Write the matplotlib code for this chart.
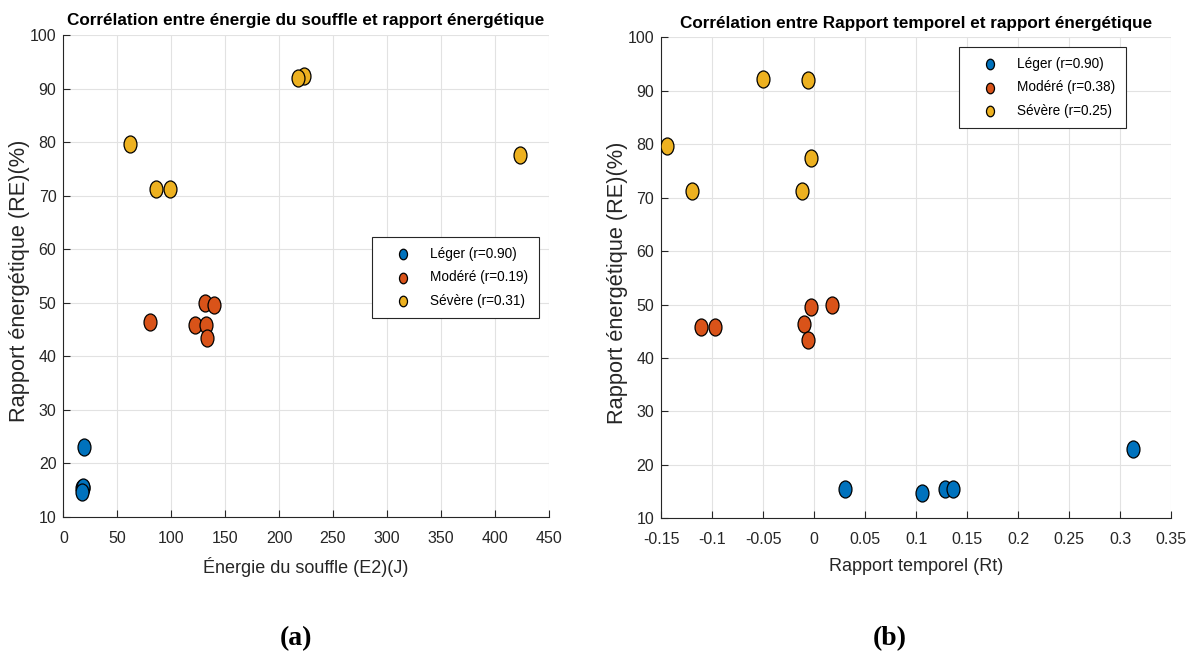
import matplotlib
matplotlib.use("Agg")
import matplotlib.pyplot as plt
from matplotlib import font_manager
from matplotlib.path import Path

# values
legerE2 = [19.2, 17.8, 17.5, 18.0, 17.2]
legerRE = [23.0, 15.5, 15.5, 15.6, 14.7]
modereE2 = [131.7, 139.5, 80.4, 122.2, 132.1, 133.0]
modereRE = [49.9, 49.6, 46.4, 45.9, 45.9, 43.4]
severeE2 = [223.6, 218.0, 62.2, 85.7, 99.3, 423.0]
severeRE = [92.35, 91.9, 79.7, 71.3, 71.3, 77.6]

legerRt = [0.3119, 0.0305, 0.1053, 0.1285, 0.1359]
legerRE2 = [23.0, 15.5, 14.7, 15.5, 15.5]
modereRt = [0.0177, -0.0033, -0.1108, -0.097, -0.0104, -0.0058]
modereRE2 = [49.85, 49.6, 45.85, 45.85, 46.35, 43.4]
severeRt = [-0.05, -0.0062, -0.1447, -0.1201, -0.0115, -0.0033]
severeRE2 = [92.2, 92.0, 79.7, 71.3, 71.3, 77.5]

labelsA = ["Léger (r=0.90)", "Modéré (r=0.19)", "Sévère (r=0.31)"]
labelsB = ["Léger (r=0.90)", "Modéré (r=0.38)", "Sévère (r=0.25)"]

e2Ticks = [0, 50, 100, 150, 200, 250, 300, 350, 400, 450]
rtTicks = [-0.15, -0.1, -0.05, 0, 0.05, 0.1, 0.15, 0.2, 0.25, 0.3, 0.35]
rtTickLabels = ["-0.15", "-0.1", "-0.05", "0", "0.05", "0.1", "0.15", "0.2", "0.25", "0.3", "0.35"]
reTicks = [10, 20, 30, 40, 50, 60, 70, 80, 90, 100]

colors = ["#0072BD", "#D95319", "#EDB120"]
dark = "#262626"

# pick a narrow sans if there is one (the reference text is squeezed)
names = set(f.name for f in font_manager.fontManager.ttflist)
if "Liberation Sans Narrow" in names:
    sans = "Liberation Sans Narrow"
    k = 1.15
else:
    sans = "Liberation Sans"
    k = 1.0
plt.rcParams["font.family"] = [sans, "DejaVu Sans"]

# circles in the reference are a bit taller than wide
circ = Path.unit_circle()
ellipse = Path(circ.vertices * [0.76, 1.0], circ.codes)


def panel(ax, groups, labels, xlim, xticks, xticklabels, title, xlabel, legendAt):
    for (xs, ys), c, lab in zip(groups, colors, labels):
        ax.scatter(xs, ys, s=150, marker=ellipse, facecolor=c, edgecolor="black",
                   linewidth=0.9, label=lab, zorder=3)
    ax.set_xlim(xlim)
    ax.set_ylim(10, 100)
    ax.set_xticks(xticks)
    if xticklabels is not None:
        ax.set_xticklabels(xticklabels)
    ax.set_yticks(reTicks)
    ax.grid(True, color="#e2e2e2", linewidth=0.8)
    ax.set_axisbelow(True)
    for side in ["top", "right"]:
        ax.spines[side].set_visible(False)
    for side in ["left", "bottom"]:
        ax.spines[side].set_color(dark)
        ax.spines[side].set_linewidth(0.8)
    ax.tick_params(direction="in", length=5, width=0.8, colors=dark, labelsize=11.5 * k)
    ax.tick_params(axis="x", pad=10)
    ax.tick_params(axis="y", pad=5)
    ax.set_title(title, fontsize=12.3 * k, fontweight="bold", pad=7)
    ax.set_xlabel(xlabel, fontsize=13 * k, color=dark, labelpad=8)
    ax.set_ylabel("Rapport énergétique (RE)(%)", fontsize=15.7 * k, color=dark)
    w = ax.get_position().width * fig.get_figwidth() * fig.dpi
    ax.yaxis.set_label_coords(-33.0 / w, 0.49)
    leg = ax.legend(loc="upper left", bbox_to_anchor=legendAt, bbox_transform=fig.transFigure,
                    fontsize=9.8 * k, frameon=True, fancybox=False, edgecolor=dark, framealpha=1,
                    borderaxespad=0, borderpad=0.75, handlelength=3.05, handletextpad=0.5,
                    labelspacing=0.7, markerscale=0.62, scatterpoints=1)
    leg.get_frame().set_linewidth(0.8)


fig = plt.figure(figsize=(11.93, 6.58), dpi=100)
axA = fig.add_axes([0.0531, 0.2143, 0.4068, 0.7325])
axB = fig.add_axes([0.5542, 0.2123, 0.4277, 0.7310])

panel(axA, [(legerE2, legerRE), (modereE2, modereRE), (severeE2, severeRE)], labelsA,
      (0, 450), e2Ticks, None,
      "Corrélation entre énergie du souffle et rapport énergétique",
      "Énergie du souffle (E2)(J)", (0.3116, 0.6403))
panel(axB, [(legerRt, legerRE2), (modereRt, modereRE2), (severeRt, severeRE2)], labelsB,
      (-0.15, 0.35), rtTicks, rtTickLabels,
      "Corrélation entre Rapport temporel et rapport énergétique",
      "Rapport temporel (Rt)", (0.8038, 0.9290))

fig.text(0.248, 0.030, "(a)", family="Liberation Serif", fontweight="bold", fontsize=20,
         ha="center", va="center")
fig.text(0.746, 0.030, "(b)", family="Liberation Serif", fontweight="bold", fontsize=20,
         ha="center", va="center")

fig.savefig("out.png", dpi=100)
